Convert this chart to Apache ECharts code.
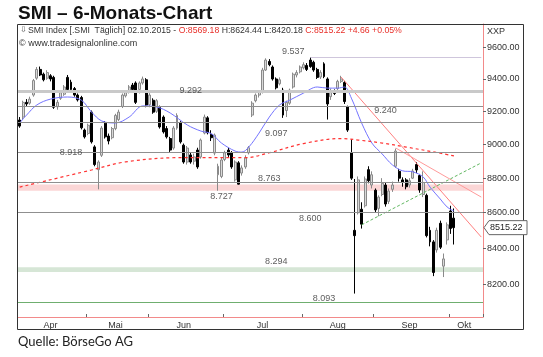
<!DOCTYPE html>
<html><head><meta charset="utf-8">
<script src="https://cdn.jsdelivr.net/npm/echarts@6/dist/echarts.min.js"></script>
<style>html,body{margin:0;padding:0;background:#fff;}#c{width:543px;height:357px;}</style>
</head><body><div id="c"></div>
<script>
// ---------- DATA ----------
const dates = [
'04-01','04-02','04-07','04-08','04-09','04-10','04-13','04-14','04-15','04-16','04-17','04-20','04-21','04-22','04-23','04-24','04-27','04-28','04-29','04-30',
'05-04','05-05','05-06','05-07','05-08','05-11','05-12','05-13','05-15','05-18','05-19','05-20','05-21','05-22','05-26','05-27','05-28','05-29',
'06-01','06-02','06-03','06-04','06-05','06-08','06-09','06-10','06-11','06-12','06-15','06-16','06-17','06-18','06-19','06-22','06-23','06-24','06-25','06-26','06-29','06-30',
'07-01','07-02','07-03','07-06','07-07','07-08','07-09','07-10','07-13','07-14','07-15','07-16','07-17','07-20','07-21','07-22','07-23','07-24','07-27','07-28','07-29','07-30','07-31',
'08-03','08-04','08-05','08-06','08-07','08-10','08-11','08-12','08-13','08-14','08-17','08-18','08-19','08-20','08-21','08-24','08-25','08-26','08-27','08-28','08-31',
'09-01','09-02','09-03','09-04','09-07','09-08','09-09','09-10','09-11','09-14','09-15','09-16','09-17','09-18','09-21','09-22','09-23','09-24','09-25','09-28','09-29','09-30',
'10-01','10-02','10-05','10-06','10-07','10-08','10-09','10-12','10-13','10-14'];

const open = [9147,9165,9255,9250,9300,9405,9460,9430,9405,9420,9410,9228,9280,9305,9410,9380,9340,9300,9285,9086,
9065,9195,8985,8850,8935,9128,9050,9040,9095,9150,9230,9295,9320,9362,9375,9335,9375,9395,
9240,9268,9200,9225,9165,9095,9035,8978,9098,9130,8995,8895,8937,8900,8966,8925,9068,9160,9060,8948,8820,8810,
8910,8966,8950,8790,8890,8830,8866,8950,9177,9265,9300,9320,9456,9510,9475,9400,9370,9331,9205,9250,9350,9425,9445,
9470,9485,9519,9505,9460,9412,9495,9400,9290,9320,9340,9385,9378,9227,8950,8500,8600,8620,8640,8850,8760,
8730,8625,8705,8760,8665,8735,8870,8840,8790,8790,8760,8800,8880,8815,8705,8700,8500,8435,8390,8540,8300,8446,
8610,8569.18];
const high = [9165,9265,9275,9290,9400,9475,9478,9440,9455,9430,9420,9270,9325,9362,9425,9395,9350,9310,9295,9095,
9125,9205,8995,8905,9110,9140,9065,9105,9185,9210,9310,9330,9362,9375,9385,9385,9415,9405,
9312,9280,9275,9235,9175,9110,9045,9110,9188,9140,9005,8990,8950,8945,8980,9035,9180,9170,9085,9065,8885,8920,
8962,8980,8960,8905,8900,8875,8935,8990,9262,9310,9330,9470,9530,9525,9485,9410,9410,9345,9265,9340,9440,9455,9485,
9505,9500,9537,9515,9470,9455,9505,9410,9340,9335,9395,9420,9388,9235,9030,8795,8810,8660,8810,8870,8840,
8740,8700,8800,8775,8740,8780,8975,8855,8805,8800,8800,8855,8895,8825,8840,8710,8520,8445,8515,8555,8370,8545,
8640,8624.44];
const low = [9100,9150,9230,9240,9290,9395,9418,9385,9395,9385,9215,9210,9270,9295,9325,9320,9290,9260,9090,9035,
9055,9005,8870,8735,8925,9035,9000,9030,9085,9140,9220,9285,9310,9325,9245,9310,9365,9225,
9225,9185,9190,9095,9065,9035,8955,8968,9088,9005,8885,8880,8885,8880,8855,8915,9060,9060,9020,8935,8727,8800,
8900,8925,8855,8780,8763,8815,8855,8940,9165,9255,9285,9310,9450,9480,9390,9335,9360,9160,9165,9240,9340,9410,9435,
9460,9450,9470,9445,9400,9400,9405,9150,9270,9300,9330,9375,9245,9075,8790,8150,8590,8510,8630,8770,8740,
8600,8580,8695,8635,8650,8720,8860,8780,8750,8735,8745,8795,8830,8715,8690,8460,8410,8245,8375,8395,8240,8420,
8480,8420.18];
const close = [9110,9255,9245,9275,9390,9460,9425,9395,9440,9400,9225,9255,9315,9350,9335,9335,9300,9270,9100,9045,
9115,9015,8880,8895,9098,9045,9020,9095,9175,9195,9300,9315,9350,9335,9255,9375,9400,9238,
9300,9195,9265,9105,9075,9045,8966,9098,9175,9015,8895,8978,8895,8925,8866,9026,9165,9070,9040,9056,8870,8907,
8950,8937,8866,8895,8765,8860,8920,8980,9250,9300,9318,9456,9519,9490,9400,9345,9395,9177,9255,9330,9430,9440,9475,
9490,9460,9478,9456,9410,9440,9415,9245,9325,9310,9385,9400,9260,9086,8800,8470,8790,8535,8795,8785,8820,
8616,8690,8770,8650,8725,8760,8960,8800,8775,8750,8785,8842,8848,8731,8775,8470,8435,8265,8500,8405,8340,8531,
8510.56,8515.22];

// short moving average (blue)
const maDates  = ['04-01','04-07','04-10','04-16','04-23','04-29','05-05','05-08','05-15','05-21','05-28','06-03','06-09','06-16','06-22','06-25','06-30','07-06','07-08','07-10','07-15','07-20','07-23','07-28','08-03','08-07','08-12','08-17','08-19','08-21','08-26','08-31','09-03','09-08','09-11','09-16','09-21','09-23','09-28','09-30','10-02'];
const maValues = [9129,9177,9239,9275,9288,9269,9196,9141,9129,9165,9233,9227,9190,9117,9080,9065,9008,8960,8954,8984,9068,9165,9239,9269,9312,9350,9343,9343,9350,9281,9129,9008,8943,8878,8843,8837,8807,8748,8679,8633,8610];
// long moving average (red dashed)
const ma2Dates  = ['04-01','05-05','05-20','06-12','07-09','07-20','08-03','08-18','08-25','09-03','09-14','09-24','10-02'];
const ma2Values = [8748,8848,8896,8921,8921,8950,9005,9035,9026,9008,8984,8955,8931];

// trend lines
const trendStartDates  = ['08-18','09-09','08-26'];
const trendStartValues = [9412,8978,8531];
const trendEndDates    = ['10-14','10-14','10-14'];
const trendEndValues   = [8462,8690,8890];

// horizontal levels
const levelValues     = [9537,9292,9240,9097,8918,8763,8600,8093];
const levelStartDates = ['08-05',null,null,null,null,null,null,null];
const zoneFrom = [8727,8268];
const zoneTo   = [8763,8294];
const levelLabelValues = [9537,9292,9240,9097,8918,8763,8727,8600,8294,8093];
const levelLabelDates  = ['07-29','06-17','09-04','07-22','04-24','07-20','06-30','08-05','07-22','08-11'];

const yTickValues = [8200,8400,8600,8800,9000,9200,9400,9600];
const monthNames = ['Apr','Mai','Jun','Jul','Aug','Sep','Okt'];
const monthLabelDates = ['04-16','05-15','06-15','07-16','08-17','09-15','10-07'];
const monthStartDates = ['05-04','06-01','07-01','08-03','09-01','10-01'];

// ---------- STYLE ----------
const Y_MIN = 8024, Y_MAX = 9750;
const FONT = '"Liberation Sans", Arial, sans-serif';
const levelColors = ['#cfc6dc','#c9c9c9','#8f8f8f','#8f8f8f','#8f8f8f','#8f8f8f','#8f8f8f','#6fae6f'];
const levelWidths = [1,3,1,1,1,1,1,1];
const zoneColors = ['#fbd6d6','#d6e6d6'];
const levelLabelSide = ['top','top','bottom','bottom','top','top','bottom','bottom','top','top'];
const trendColors = ['#ff8080','#ff9a9a','#62b862'];
const trendTypes = ['solid','solid',[3,2]];

const L = Math.log;
const N = close.length;
const fmtLevel = v => { const s = String(Math.round(v)); return s.slice(0, s.length-3) + '.' + s.slice(-3); };

const chart = echarts.init(document.getElementById('c'), null, {renderer:'canvas'});

const markLineData = levelValues.map((v,i) => {
  const ls = {color: levelColors[i], width: levelWidths[i], type:'solid'};
  if (levelStartDates[i]) return [{coord:[levelStartDates[i], L(v)], lineStyle: ls}, {coord:[dates[dates.length-1], L(v)]}];
  return {yAxis: L(v), lineStyle: ls};
});
const markAreaData = zoneFrom.map((v,i) => [{yAxis: L(v), itemStyle:{color: zoneColors[i]}}, {yAxis: L(zoneTo[i])}]);

const series = [
  { type:'line', data: [], z:1, silent:true,
    markArea: {silent:true, data: markAreaData},
    markLine: {silent:true, symbol:['none','none'], label:{show:false}, data: markLineData} },
  { type:'candlestick', z:3, barWidth:'72%',
    data: open.map((o,i)=>[L(o), L(close[i]), L(low[i]), L(high[i])]),
    itemStyle:{color:'#d9d9d9', color0:'#000000', borderColor:'#8a8a8a', borderColor0:'#000000', borderWidth:1} },
  { type:'line', z:4, data: maDates.map((d,i)=>[d, L(maValues[i])]), showSymbol:false, smooth:0.35,
    lineStyle:{color:'#7474ff', width:1} },
  { type:'line', z:4, data: ma2Dates.map((d,i)=>[d, L(ma2Values[i])]), showSymbol:false, smooth:0.35,
    lineStyle:{color:'#ff3333', width:1.2, type:[3,3]} }
];
trendStartDates.forEach((d,i) => {
  series.push({ type:'line', z:4, showSymbol:false,
    data: [[d, L(trendStartValues[i])], [trendEndDates[i], L(trendEndValues[i])]],
    lineStyle:{color: trendColors[i], width:1, type: trendTypes[i]} });
});
series.push({ type:'scatter', z:5, symbolSize:0, silent:true,
  data: levelLabelDates.map((d,i)=>({value:[d, L(levelLabelValues[i])],
     label:{position: levelLabelSide[i]}})),
  label:{show:true, distance:1, fontSize:9, fontFamily:FONT, color:'#333',
     formatter: p => fmtLevel(levelLabelValues[p.dataIndex])} });

const last = N-1;
const chg = close[last]-close[last-1];
const pct = chg/close[last-1]*100;
const sgn = x => (x>=0?'+':'') + x.toFixed(2);

const option = {
  animation:false,
  backgroundColor:'#fff',
  grid:{left:18, right:60, top:24, bottom:40},
  xAxis:{ type:'category', data: dates, boundaryGap:true,
    axisLine:{lineStyle:{color:'#f28a8a', width:1}},
    axisTick:{show:true, inside:true, length:3, lineStyle:{color:'#666'},
      interval:(i, v) => monthStartDates.indexOf(dates[i]) >= 0},
    axisLabel:{fontSize:9, fontFamily:FONT, color:'#333', margin:4,
      interval:(i, v) => monthLabelDates.indexOf(dates[i]) >= 0,
      formatter:(v) => monthNames[monthLabelDates.indexOf(v)] || ''},
    splitLine:{show:false} },
  yAxis:{ type:'value', position:'right', min: L(Y_MIN), max: L(Y_MAX),
    axisLine:{show:true, lineStyle:{color:'#f28a8a', width:1}},
    axisTick:{show:true, length:3, customValues: yTickValues.map(L), lineStyle:{color:'#666'}},
    axisLabel:{fontSize:9, fontFamily:FONT, color:'#333', margin:4,
      customValues: yTickValues.map(L), formatter: v => Math.exp(v).toFixed(2)},
    splitLine:{show:false} },
  series,
  graphic:[
    {id:'frame', type:'rect', shape:{x:17.5, y:24.5, width:506, height:305}, style:{fill:null, stroke:'#333', lineWidth:1}, z:10},
    {id:'title', type:'text', left:18, top:4, style:{text:'SMI – 6-Monats-Chart', font:'bold 19px '+FONT, fill:'#111'}},
    {id:'src', type:'text', left:18, top:335, style:{text:'Quelle: BörseGo AG', font:'13px "Liberation Sans Narrow", Lato, sans-serif', fill:'#222'}},
    {id:'icon', type:'text', left:20, top:26, style:{text:'⇩', font:'8px DejaVu Sans', fill:'#555'}},
    {id:'hdr', type:'text', left:28, top:26, style:{
      text:'{a|SMI Index [.SMI  Täglich] 02.10.2015 - }{r|O:'+open[last].toFixed(2)+'}{a| H:'+high[last].toFixed(2)+' L:'+low[last].toFixed(2)+' }{r|C:'+close[last].toFixed(2)+' '+sgn(chg)+' '+sgn(pct)+'%}',
      rich:{a:{font:'8.7px '+FONT, fill:'#333'}, r:{font:'8.7px '+FONT, fill:'#e8302a'}}}},
    {id:'copy', type:'text', left:19, top:39, style:{text:'© www.tradesignalonline.com', font:'9px '+FONT, fill:'#333'}},
    {id:'xxp', type:'text', left:487, top:27, style:{text:'XXP', font:'9px '+FONT, fill:'#333'}}
  ]
};
chart.setOption(option);

const py = chart.convertToPixel({yAxisIndex:0}, L(close[last]));
chart.setOption({graphic:[
  {id:'tag', type:'polygon', z:11, shape:{points:[[484,py],[489,py-7],[527,py-7],[527,py+7],[489,py+7]]},
    style:{fill:'#fff', stroke:'#666', lineWidth:1}},
  {id:'tagtxt', type:'text', z:12, x:490, y:py, style:{text: close[last].toFixed(2), font:'9px '+FONT, fill:'#222', verticalAlign:'middle'}}
]});
</script></body></html>
